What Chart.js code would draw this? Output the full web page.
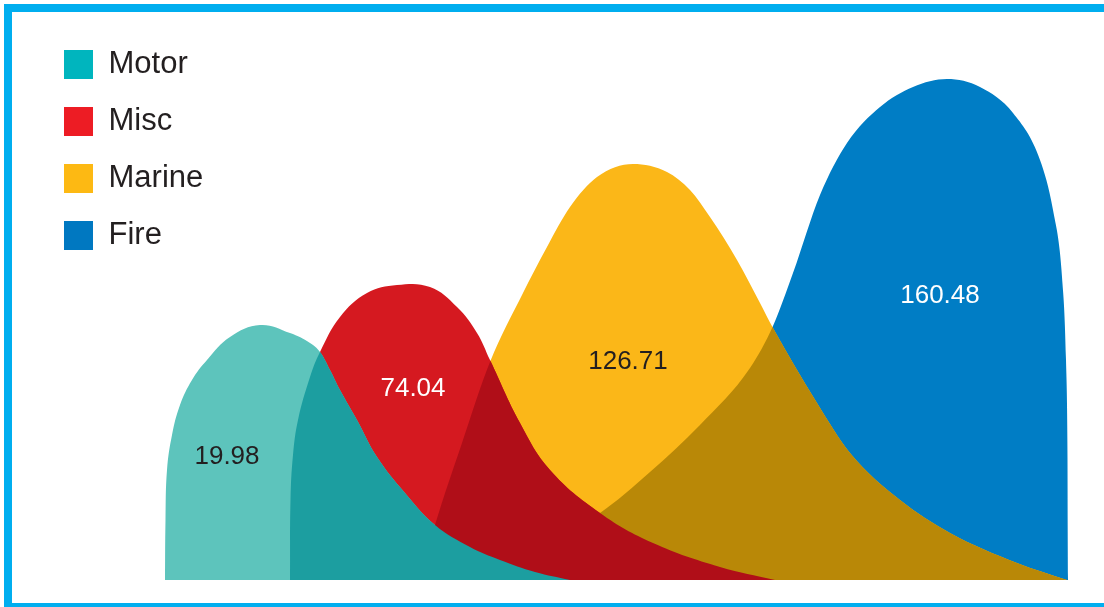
<!DOCTYPE html>
<html>
<head>
<meta charset="utf-8">
<script src="https://cdn.jsdelivr.net/npm/chart.js@4.4.1/dist/chart.umd.min.js"></script>
<style>
  html, body { margin: 0; padding: 0; background: #fff; overflow: hidden; }
  #frame {
    position: absolute; left: 4px; top: 4px;
    width: 1200px; height: 591px;
    border: 8px solid #00aeef;
  }
  #chart { position: absolute; left: 0; top: 0; }
</style>
</head>
<body>
<div id="frame"></div>
<canvas id="chart" width="1104" height="607"></canvas>
<script>
// Series names (top of the stack first)
const seriesNames = ['Motor', 'Misc', 'Marine', 'Fire'];
const seriesTotals = ['19.98', '74.04', '126.71', '160.48'];

// Curve outlines (x, y in chart units)
const motorX = [12.7, 12.75, 12.9, 13.4, 14.2, 15.4, 16.9, 19.2, 22.2, 25.2, 27.2, 28.2, 29.2, 30.2, 31.9, 33.9, 36.7, 39.7, 43.2, 46.2, 49.7, 53.2];
const motorY = [0, 12, 22, 29, 35, 40, 44, 48.6, 51, 49.4, 47.4, 45.6, 42, 38, 32, 24.6, 17.4, 11, 6.6, 4, 1.6, 0];

const miscX = [25.2, 25.25, 25.5, 26.0, 27.2, 28.2, 30.2, 32.9, 35.9, 39.2, 41.9, 43.9, 45.2, 48.2, 51.2, 56.2, 61.5, 68.2, 73.7];
const miscY = [0, 16, 25, 32, 40.6, 45.6, 52.6, 57.4, 59, 58.6, 54.6, 49.4, 44, 31.4, 22, 13.4, 7.4, 2.6, 0];

const marineX = [38.2, 39.7, 42.4, 45.2, 48.5, 50.9, 53.2, 55.9, 59.5, 62.9, 65.2, 67.2, 69.9, 72.2, 73.5, 77.9, 81.2, 86.2, 91.2, 97.9, 102.9];
const marineY = [0, 11, 27.4, 43.6, 57.4, 66.6, 74.6, 80.6, 83.2, 81.6, 78, 72.6, 64, 55.4, 50.4, 35.4, 25.4, 16, 9.4, 3.4, 0];

const fireX = [40.7, 46.4, 51.2, 56.2, 61.2, 66.2, 71.2, 73.5, 75.5, 78.2, 80.9, 84.2, 87.5, 90.9, 94.2, 97.5, 100.2, 101.5, 102.4, 102.8, 102.95, 103.0];
const fireY = [0, 4, 8, 13.4, 21.6, 31, 42.4, 50.8, 61.4, 77, 87.4, 94.6, 98.6, 100.2, 98.6, 93.4, 84, 74, 60.6, 44, 24, 0];

// Colours
const legendColors = ['#00b5be', '#ed1c24', '#fdb913', '#0078c1'];
const areaColors   = ['#5dc4bc', '#d51920', '#fbb718', '#007dc5'];
const overlapColors = ['#1c9ea0', '#b00e18', '#b98807', null];
const labelColors  = ['#231f20', '#ffffff', '#231f20', '#ffffff'];
// rounded humps for the two small series, monotone for the big ones
const curveModes = ['default', 'default', 'monotone', 'monotone'];

// where each total is written (chart units)
const labelAnchors = [[18.9, 24.6], [37.5, 38.2], [59.0, 43.6], [90.2, 56.8]];

const toPoints = (xs, ys) => xs.map((x, i) => ({ x, y: ys[i] }));
const seriesData = [
  toPoints(motorX, motorY),
  toPoints(miscX, miscY),
  toPoints(marineX, marineY),
  toPoints(fireX, fireY)
];

const FONT = "'Liberation Sans', Arial, Helvetica, sans-serif";
const TEXT = '#231f20';

// Paints the darker shade where a series lies over the ones below it,
// then writes the totals.
const overlapPlugin = {
  id: 'overlaps',
  afterDatasetsDraw(chart) {
    const ctx = chart.ctx;
    const area = chart.chartArea;
    const xs = chart.scales.x, ys = chart.scales.y;
    const base = ys.getPixelForValue(0);
    const metas = seriesData.map((d, i) => chart.getDatasetMeta(i));

    function addArea(meta) {
      const pts = meta.data;
      meta.dataset.path(ctx);
      ctx.lineTo(pts[pts.length - 1].x, base);
      ctx.lineTo(pts[0].x, base);
      ctx.closePath();
    }

    ctx.save();
    ctx.beginPath();
    ctx.rect(area.left, area.top, area.width, area.height);
    ctx.clip();
    for (let i = metas.length - 2; i >= 0; i--) {
      ctx.save();
      ctx.beginPath();
      addArea(metas[i]);
      ctx.clip();
      ctx.beginPath();
      for (let j = i + 1; j < metas.length; j++) addArea(metas[j]);
      ctx.fillStyle = overlapColors[i];
      ctx.fill();
      ctx.restore();
    }

    ctx.font = '26px ' + FONT;
    ctx.textAlign = 'center';
    ctx.textBaseline = 'middle';
    seriesTotals.forEach((t, i) => {
      ctx.fillStyle = labelColors[i];
      ctx.fillText(t, xs.getPixelForValue(labelAnchors[i][0]), ys.getPixelForValue(labelAnchors[i][1]));
    });
    ctx.restore();
  }
};

new Chart(document.getElementById('chart').getContext('2d'), {
  type: 'line',
  data: {
    datasets: seriesNames.map((name, i) => ({
      label: name,
      data: seriesData[i],
      backgroundColor: legendColors[i],
      borderColor: 'rgba(0,0,0,0)',
      borderWidth: 0,
      pointRadius: 0,
      tension: 0.4,
      cubicInterpolationMode: curveModes[i],
      fill: { target: 'origin', above: areaColors[i], below: areaColors[i] }
    }))
  },
  options: {
    responsive: false,
    animation: false,
    devicePixelRatio: 1,
    layout: { padding: { left: 38, top: 23, right: 16, bottom: 27 } },
    scales: {
      x: { type: 'linear', min: 0, max: 105, display: false },
      y: { min: 0, max: 111.4, display: false }
    },
    plugins: {
      tooltip: { enabled: false },
      legend: {
        position: 'chartArea',
        align: 'start',
        // empty title only pushes the list down inside the plot area
        title: { display: true, text: '', color: TEXT, font: { size: 10, lineHeight: 1 }, padding: { top: 13, bottom: 0 } },
        labels: {
          boxWidth: 29,
          boxHeight: 29,
          padding: 26,
          color: TEXT,
          font: { family: FONT, size: 31 },
          generateLabels: (chart) => seriesNames.map((name, i) => ({
            text: name,
            fillStyle: legendColors[i],
            strokeStyle: legendColors[i],
            fontColor: TEXT,
            lineWidth: 0,
            datasetIndex: i
          }))
        }
      }
    }
  },
  plugins: [overlapPlugin]
});
</script>
</body>
</html>
